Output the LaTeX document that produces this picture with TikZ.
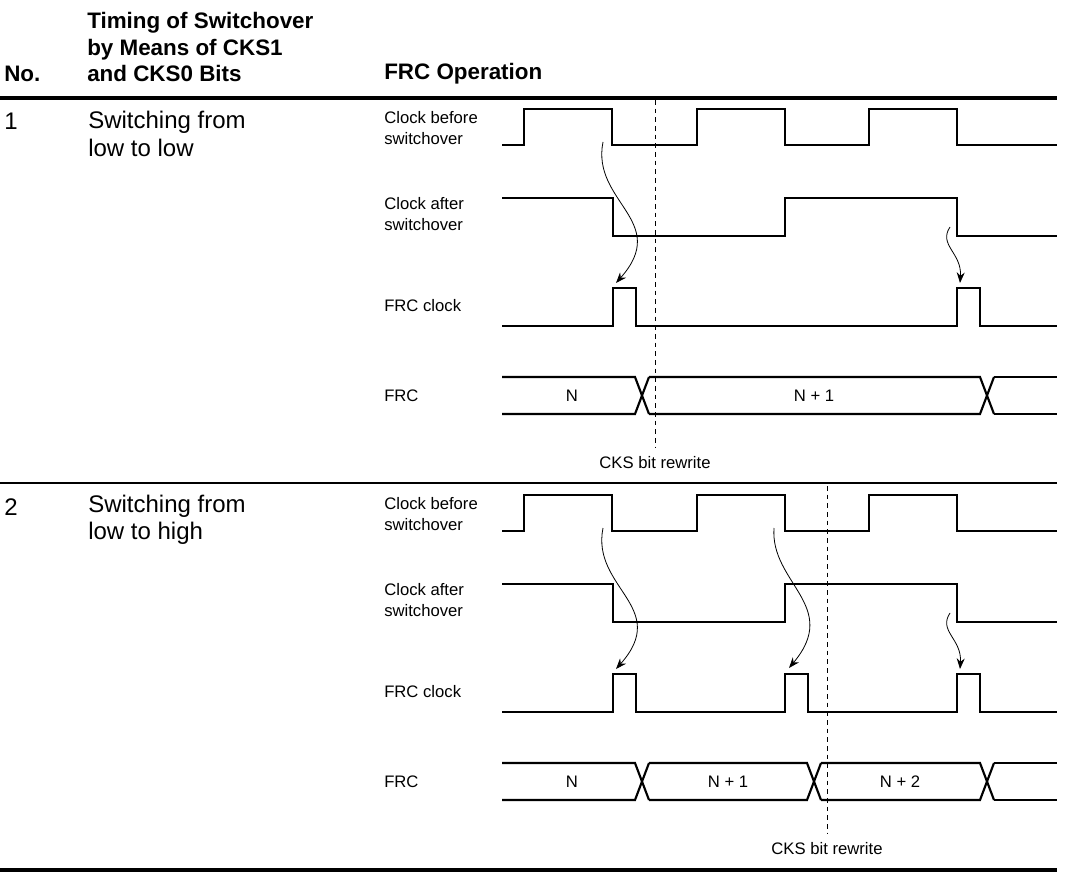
\documentclass[tikz,border=0pt]{standalone}
\usepackage{fontspec}
\setmainfont{Liberation Sans}
\usetikzlibrary{arrows.meta, positioning, calc}

\begin{document}
\begin{tikzpicture}[
  x=0.75pt, y=-0.75pt,
  wave/.style={line width=1.6pt},
  rule/.style={line width=2.3pt},
  hdr/.style={font=\fontsize{16.8}{20}\selectfont\bfseries, anchor=west, align=left, inner sep=0pt},
  txt/.style={font=\fontsize{18}{20.5}\selectfont, anchor=west, align=left, inner sep=0pt},
  sig/.style={font=\fontsize{12.5}{15.5}\selectfont, anchor=west, align=left, inner sep=0pt},
  val/.style={font=\fontsize{12.5}{15}\selectfont, inner sep=0pt},
  cause/.style={-{Stealth[length=8pt, width=6pt]}, line width=0.6pt},
  rewrite/.style={line width=0.6pt, dash pattern=on 3.5pt off 3pt},
  >=Stealth
]
  \useasboundingbox (0,0) rectangle (1067,873);

  % --- Header ---
  \node[hdr] (hno) at (4,74) {No.};
  \node[hdr] (htiming) at (87,47) {Timing of Switchover\\by Means of CKS1\\and CKS0 Bits};
  \node[hdr] (hfrc) at (384,74) {FRC Operation};

  % --- Rows ---
  \foreach \r/\dy/\case/\pulses/\xs/\vals/\mk in {
      1/0/{low to low}/{613,957}/{642,987}/{572/N,814/N + 1}/655,
      2/386/{low to high}/{613,785,957}/{642,814,987}/{572/N,728/N + 1,900/N + 2}/827} {
    \node[txt] (no\r) at (4,121+\dy) {\r};
    \node[txt] (case\r) at (88,134+\dy) {Switching from\\\case};

    % signal names
    \node[sig] (before\r) at (384,128+\dy) {Clock before\\switchover};
    \node[sig] (after\r) at (384,214+\dy) {Clock after\\switchover};
    \node[sig] (frcclk\r) at (384,306+\dy) {FRC clock};
    \node[sig] (frc\r) at (384,396+\dy) {FRC};

    % clock before switchover
    \draw[wave] (502,145+\dy) \foreach \t in {524,697,869} {
        -- (\t,145+\dy) -- (\t,109+\dy) -- (\t+88,109+\dy) -- (\t+88,145+\dy)
      } -- (1057,145+\dy);
    % clock after switchover
    \draw[wave] (502,198+\dy) -- (613,198+\dy) -- (613,236+\dy) -- (785,236+\dy)
      -- (785,198+\dy) -- (957,198+\dy) -- (957,236+\dy) -- (1057,236+\dy);
    % FRC clock
    \draw[wave] (502,326+\dy) \foreach \p in \pulses {
        -- (\p,326+\dy) -- (\p,288+\dy) -- (\p+23,288+\dy) -- (\p+23,326+\dy)
      } -- (1057,326+\dy);
    % FRC value bus
    \foreach \c [remember=\c as \pc (initially 495)] in \xs {
      \draw[wave] (\pc+7,377+\dy) -- (\c-7,377+\dy) -- (\c+7,414+\dy);
      \draw[wave] (\pc+7,414+\dy) -- (\c-7,414+\dy) -- (\c+7,377+\dy);
    }
    \draw[wave] (994,377+\dy) -- (1057,377+\dy);
    \draw[wave] (994,414+\dy) -- (1057,414+\dy);
    \foreach \vx/\vt in \vals {
      \node[val] (v\r-\vx) at (\vx,396+\dy) {\vt};
    }

    % CKS bit rewrite marker
    \coordinate (mt\r) at (\mk,100+\dy);
    \coordinate (mb\r) at (\mk,448+\dy);
    \draw[rewrite] (mt\r) -- (mb\r);
    \node[val] (rw\r) at (\mk,463+\dy) {CKS bit rewrite};
  }

  % --- Table rules ---
  \draw[rule] (0,98) -- (1057,98);
  \draw[line width=1.5pt] (0,483) -- (1057,483);
  \draw[rule] (0,870) -- (1057,870);

  % --- Edge arrows ---
  \coordinate (s1a) at (603,142);  \coordinate (e1a) at (616,283);
  \coordinate (s1b) at (950,227);  \coordinate (e1b) at (960,283);
  \coordinate (s2a) at (603,528);  \coordinate (e2a) at (616,669);
  \coordinate (s2b) at (774,528);  \coordinate (e2b) at (789,668);
  \coordinate (s2c) at (950,613);  \coordinate (e2c) at (960,669);

  \draw[cause] (s1a) .. controls +(-12,60) and +(55,-62) .. (e1a);
  \draw[cause] (s1b) .. controls +(-12,18) and +(2,-30) .. (e1b);
  \draw[cause] (s2a) .. controls +(-12,60) and +(55,-62) .. (e2a);
  \draw[cause] (s2b) .. controls +(-4,55) and +(52,-62) .. (e2b);
  \draw[cause] (s2c) .. controls +(-12,18) and +(2,-30) .. (e2c);
\end{tikzpicture}
\end{document}
